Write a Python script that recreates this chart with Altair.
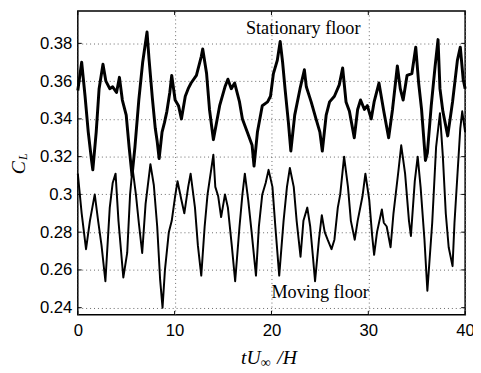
import altair as alt
import pandas as pd

# ---- data ----
t_stat = [0.0, 0.4, 0.75, 1.08, 1.42, 1.55, 1.9, 2.2, 2.6, 2.9, 3.3, 3.6, 4.0, 4.3, 4.6, 5.0,
          5.3, 5.6, 5.9, 6.3, 6.7, 7.15, 7.35, 7.7, 8.0, 8.2, 8.4, 8.7, 8.95, 9.2, 9.5, 9.7,
          10.05, 10.4, 10.7, 11.1, 11.4, 11.7, 12.25, 12.75, 12.9, 13.3, 13.6, 14.0, 14.65,
          15.2, 15.5, 15.85, 16.2, 16.7, 17.0, 17.5, 18.0, 18.2, 18.55, 19.05, 19.6, 19.9,
          20.2, 20.6, 20.9, 21.15, 21.4, 21.75, 22.0, 22.4, 22.95, 23.4, 23.6, 24.1, 24.6,
          25.0, 25.25, 25.65, 26.0, 26.5, 27.0, 27.35, 27.7, 28.05, 28.55, 28.9, 29.2, 29.6,
          29.9, 30.3, 30.6, 31.1, 31.6, 32.1, 32.5, 33.0, 33.3, 33.6, 34.0, 34.5, 34.9, 35.2,
          35.5, 35.9, 36.1, 36.5, 36.9, 37.2, 37.4, 37.7, 38.2, 38.7, 39.2, 39.5, 39.8, 40.0]
c_stat = [0.355, 0.370, 0.352, 0.333, 0.318, 0.313, 0.333, 0.356, 0.369, 0.360, 0.356, 0.357,
          0.354, 0.362, 0.350, 0.342, 0.325, 0.310, 0.325, 0.350, 0.370, 0.386, 0.372, 0.351,
          0.335, 0.328, 0.319, 0.333, 0.338, 0.344, 0.354, 0.363, 0.350, 0.347, 0.340, 0.352,
          0.356, 0.359, 0.363, 0.373, 0.377, 0.364, 0.345, 0.329, 0.347, 0.357, 0.361, 0.356,
          0.359, 0.349, 0.340, 0.333, 0.326, 0.315, 0.333, 0.347, 0.349, 0.352, 0.364, 0.371,
          0.381, 0.370, 0.356, 0.338, 0.323, 0.342, 0.356, 0.366, 0.357, 0.349, 0.340, 0.333,
          0.323, 0.342, 0.349, 0.352, 0.358, 0.367, 0.349, 0.344, 0.330, 0.345, 0.350, 0.345,
          0.347, 0.340, 0.349, 0.359, 0.344, 0.330, 0.345, 0.368, 0.356, 0.350, 0.363, 0.364,
          0.378, 0.359, 0.345, 0.318, 0.322, 0.347, 0.368, 0.382, 0.356, 0.344, 0.331, 0.349,
          0.371, 0.378, 0.361, 0.356]

t_move = [0.0, 0.4, 0.85, 1.25, 1.75, 2.1, 2.45, 2.85, 3.3, 3.6, 3.9, 4.2, 4.7, 5.1, 5.4, 5.65,
          6.0, 6.3, 6.65, 7.0, 7.5, 7.85, 8.2, 8.5, 8.75, 9.0, 9.4, 9.7, 10.05, 10.3, 10.7,
          11.0, 11.4, 11.65, 12.1, 12.4, 12.75, 13.1, 13.4, 14.0, 14.2, 14.5, 14.8, 15.2, 15.5,
          15.9, 16.25, 16.7, 17.0, 17.25, 17.6, 17.95, 18.4, 18.7, 19.05, 19.4, 19.7, 20.1,
          20.4, 20.8, 21.25, 21.6, 21.9, 22.3, 22.6, 23.0, 23.3, 23.7, 24.0, 24.3, 24.5, 24.9,
          25.2, 25.5, 25.8, 26.2, 26.5, 26.85, 27.1, 27.5, 27.9, 28.2, 28.6, 28.9, 29.4, 29.7,
          30.1, 30.4, 30.6, 30.9, 31.4, 31.6, 31.9, 32.3, 32.6, 33.1, 33.4, 33.8, 34.2, 34.4,
          34.8, 35.1, 35.4, 35.8, 36.1, 36.6, 37.0, 37.4, 37.7, 38.0, 38.3, 38.7, 38.9, 39.2,
          39.5, 39.7, 40.0]
c_move = [0.311, 0.290, 0.271, 0.286, 0.300, 0.286, 0.273, 0.254, 0.293, 0.306, 0.311, 0.286,
          0.256, 0.269, 0.300, 0.314, 0.300, 0.285, 0.269, 0.295, 0.316, 0.305, 0.283, 0.255,
          0.240, 0.260, 0.280, 0.286, 0.299, 0.307, 0.297, 0.290, 0.304, 0.311, 0.293, 0.273,
          0.257, 0.283, 0.300, 0.321, 0.304, 0.299, 0.288, 0.300, 0.293, 0.273, 0.254, 0.283,
          0.300, 0.311, 0.297, 0.280, 0.257, 0.283, 0.300, 0.306, 0.313, 0.304, 0.283, 0.257,
          0.286, 0.304, 0.314, 0.304, 0.286, 0.267, 0.286, 0.293, 0.283, 0.266, 0.254, 0.276,
          0.289, 0.280, 0.276, 0.271, 0.276, 0.293, 0.300, 0.320, 0.304, 0.286, 0.276, 0.286,
          0.299, 0.311, 0.297, 0.278, 0.268, 0.280, 0.292, 0.285, 0.283, 0.272, 0.290, 0.312,
          0.326, 0.311, 0.286, 0.278, 0.307, 0.320, 0.304, 0.276, 0.249, 0.285, 0.325, 0.343,
          0.320, 0.290, 0.272, 0.262, 0.285, 0.310, 0.335, 0.344, 0.333]

x_ticks = [0, 10, 20, 30, 40]
y_ticks = [0.24, 0.26, 0.28, 0.30, 0.32, 0.34, 0.36, 0.38]

# ---- layout ----
W, H = 394, 309
XDOM = [0, 40]
YDOM = [0.2362, 0.3971]
SANS = "Liberation Sans"
SERIF = "Liberation Serif"

xs = alt.Scale(domain=XDOM, nice=False, zero=False)
ys = alt.Scale(domain=YDOM, nice=False, zero=False)

x_axis = alt.Axis(values=x_ticks, title="", grid=True, gridDash=[1, 3], gridColor="#666",
                  gridWidth=1, ticks=False, tickSize=0, domain=False, labelFont=SANS,
                  labelFontSize=17, labelColor="black", labelPadding=8, labelFlush=False)
y_axis = alt.Axis(values=y_ticks, title="", grid=True, gridDash=[1, 3], gridColor="#666",
                  gridWidth=1, ticks=False, tickSize=0, domain=False, labelFont=SANS,
                  labelFontSize=17, labelColor="black", labelPadding=6, format="~g")

stat_df = pd.DataFrame({"t": t_stat, "C": c_stat})
move_df = pd.DataFrame({"t": t_move, "C": c_move})

stat = alt.Chart(stat_df).mark_line(color="black", strokeWidth=3, strokeJoin="round").encode(
    x=alt.X("t:Q", scale=xs, axis=x_axis),
    y=alt.Y("C:Q", scale=ys, axis=y_axis),
)
move = alt.Chart(move_df).mark_line(color="black", strokeWidth=2, strokeJoin="round").encode(
    x=alt.X("t:Q", scale=xs, axis=x_axis),
    y=alt.Y("C:Q", scale=ys, axis=y_axis),
)

xt = pd.DataFrame({"t": x_ticks})
yt = pd.DataFrame({"C": y_ticks})
tick_bottom = alt.Chart(xt).mark_rule(color="black", strokeWidth=1).encode(
    x=alt.X("t:Q", scale=xs, axis=x_axis), y=alt.value(H), y2=alt.value(H - 4))
tick_top = alt.Chart(xt).mark_rule(color="black", strokeWidth=1).encode(
    x=alt.X("t:Q", scale=xs, axis=x_axis), y=alt.value(0), y2=alt.value(4))
tick_left = alt.Chart(yt).mark_rule(color="black", strokeWidth=1).encode(
    y=alt.Y("C:Q", scale=ys, axis=y_axis), x=alt.value(0), x2=alt.value(4))
tick_right = alt.Chart(yt).mark_rule(color="black", strokeWidth=1).encode(
    y=alt.Y("C:Q", scale=ys, axis=y_axis), x=alt.value(W), x2=alt.value(W - 4))


def label(text, x, y, size, angle=0, italic=False, family=SERIF):
    return alt.Chart(pd.DataFrame({"s": [text]})).mark_text(
        align="left", baseline="alphabetic", font=family, fontSize=size,
        fontStyle="italic" if italic else "normal", angle=angle, color="black"
    ).encode(x=alt.value(x), y=alt.value(y), text="s:N")


labels = [
    label("Stationary floor", 171, 23, 18.5),
    label("Moving floor", 197, 292, 18.5),
    label("tU", 166, 359, 20, italic=True),
    label("\u221e", 186, 362, 14),
    label("/H", 203, 359, 20, italic=True),
    label("C", -53.5, 166, 20, angle=270, italic=True),
    label("L", -51.5, 151.5, 12, angle=270, italic=True),
]

chart = alt.layer(stat, move, tick_bottom, tick_top, tick_left, tick_right, *labels).properties(
    width=W, height=H,
    autosize=alt.AutoSizeParams(type="none"),
    padding={"left": 71, "top": 0, "right": 8, "bottom": 56},
    background="white",
).configure_view(stroke="black", strokeWidth=1.5)

chart.save("out.html", embed_options={"renderer": "svg", "actions": False})
